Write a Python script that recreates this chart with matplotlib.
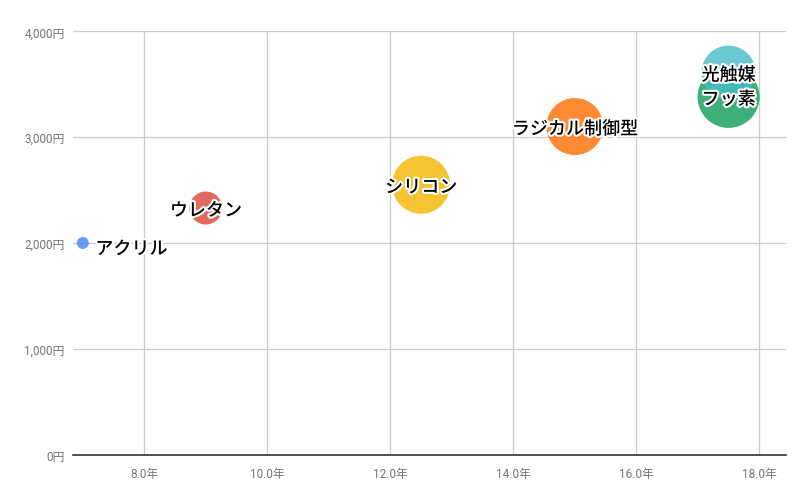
import matplotlib
matplotlib.use("Agg")
import matplotlib.pyplot as plt
import matplotlib.patheffects as pe
import numpy as np

# ---- data ----
names = ["アクリル", "ウレタン", "シリコン", "フッ素", "ラジカル制御型", "光触媒"]
years = [7.0, 9.0, 12.5, 17.5, 15.0, 17.5]
prices = [2000, 2330, 2550, 3380, 3100, 3610]
bubble_sizes = [6.0, 16.5, 29.0, 31.0, 28.5, 27.0]
colors = ["#4285F4", "#DB4437", "#F4B400", "#0F9D58", "#FF6D01", "#46BDC6"]
x_ticks = [8, 10, 12, 14, 16, 18]
y_ticks = [0, 1000, 2000, 3000, 4000]

W, H, DPI = 812, 502, 100
fig = plt.figure(figsize=(W / DPI, H / DPI), dpi=DPI)
fig.patch.set_facecolor("white")

left_px, right_px, top_px, bottom_px = 73, 786, 32.3, 455.6
ax = fig.add_axes([left_px / W, 1 - bottom_px / H,
                   (right_px - left_px) / W, (bottom_px - top_px) / H])

ax.set_xlim(6.84, 18.434)
ax.set_ylim(0, 4000)

# draw larger bubbles first
order = sorted(range(len(names)), key=lambda i: -bubble_sizes[i])
for i in order:
    r_px = bubble_sizes[i]
    s = (2 * r_px * 72 / DPI) ** 2
    ax.scatter([years[i]], [prices[i]], s=s, color=colors[i], alpha=0.8,
               edgecolors="none", zorder=3)

halo = [pe.withStroke(linewidth=3, foreground="white")]
label_font = ["Noto Sans CJK JP", "DejaVu Sans"]
for i, name in enumerate(names):
    if i == 0:
        ax.annotate(name, (years[i], prices[i]), xytext=(9, -4.5),
                    textcoords="offset points", ha="left", va="center",
                    fontsize=13, family=label_font, weight="medium", color="black",
                    path_effects=halo, zorder=5)
    else:
        ax.annotate(name, (years[i], prices[i]), xytext=(0, -2),
                    textcoords="offset points", ha="center", va="center",
                    fontsize=13, family=label_font, weight="medium", color="black",
                    path_effects=halo, zorder=5)

tick_font = ["Roboto", "Noto Sans CJK JP"]
ax.set_xticks(x_ticks)
ax.set_xticklabels([f"{v:.1f}年" for v in x_ticks], family=tick_font,
                   fontsize=8.5, color="#757575")
ax.set_yticks(y_ticks)
ax.set_yticklabels([f"{v:,}円" for v in y_ticks], family=tick_font,
                   fontsize=8.5, color="#757575")
ax.tick_params(axis="both", length=0)
ax.tick_params(axis="x", pad=9)
ax.tick_params(axis="y", pad=6)

ax.grid(True, color="#cccccc", linewidth=0.9, zorder=0)
ax.set_axisbelow(True)
for side in ["left", "right", "top"]:
    ax.spines[side].set_visible(False)
ax.spines["bottom"].set_color("#333333")
ax.spines["bottom"].set_linewidth(1.2)
ax.spines["bottom"].set_zorder(4)

fig.savefig("out.png", dpi=DPI, facecolor="white")
